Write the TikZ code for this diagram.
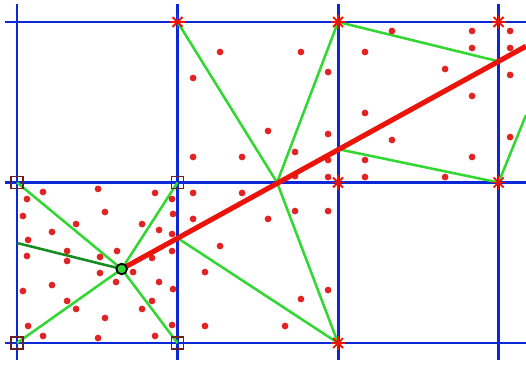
\documentclass[tikz,border=0pt]{standalone}
\definecolor{gblue}{RGB}{10,40,215}
\definecolor{lgreen}{RGB}{50,215,50}
\definecolor{dgreen}{RGB}{20,140,30}
\definecolor{rayred}{RGB}{235,20,10}
\definecolor{dotred}{RGB}{225,35,35}
\definecolor{sqred}{RGB}{110,30,30}
\begin{document}
\begin{tikzpicture}[
  x=4cm, y=4cm,
  gridline/.style={line width=2.1pt, draw=gblue},
  edge/.style={line width=1.8pt, draw=lgreen},
  dark_edge/.style={line width=1.8pt, draw=dgreen},
  ray/.style={line width=3.6pt, draw=rayred},
  dot/.style={circle, fill=dotred, inner sep=0pt, minimum size=4.8pt},
  qnode/.style={circle, draw=black, fill=lgreen, line width=1.3pt, inner sep=0pt, minimum size=7.5pt},
  sqmark/.style={rectangle, draw=sqred, line width=0.9pt, inner sep=0pt, minimum size=8.5pt},
  astmark/.style={circle, inner sep=0pt, minimum size=11pt,
    path picture={\foreach \a in {0,45,...,315}
      \draw[rayred, line width=1.3pt] (path picture bounding box.center) -- ++(\a:5pt);}}
]
  \useasboundingbox (-0.106,-0.131) rectangle (3.171,2.137);

  % --- Rejilla ---
  \draw[gridline] (-0.075,0) -- (3.171,0);
  \draw[gridline] (-0.075,1) -- (3.171,1);
  \draw[gridline] (-0.075,2) -- (3.171,2);
  \draw[gridline] (0,-0.106) -- (0,2.112);
  \draw[gridline] (1,-0.106) -- (1,2.112);
  \draw[gridline] (2,-0.106) -- (2,2.112);
  \draw[gridline] (3,-0.106) -- (3,2.112);

  % --- Vertices de la rejilla ---
  \coordinate (g00) at (0,0);
  \coordinate (g10) at (1,0);
  \coordinate (g20) at (2,0);
  \coordinate (g01) at (0,1);
  \coordinate (g11) at (1,1);
  \coordinate (g21) at (2,1);
  \coordinate (g31) at (3,1);
  \coordinate (g12) at (1,2);
  \coordinate (g22) at (2,2);
  \coordinate (g32) at (3,2);

  % --- Punto de consulta y cortes del rayo ---
  \coordinate (q)  at (0.652,0.461);
  \coordinate (c0) at (1,0.654);    % corte con x=1
  \coordinate (c1) at (1.620,1);    % corte con y=1
  \coordinate (c2) at (2,1.208);    % corte con x=2
  \coordinate (c3) at (3,1.755);    % corte con x=3
  \coordinate (rayend) at (3.171,1.849);
  \coordinate (lft) at (0,0.623);
  \coordinate (rgt) at (3.171,1.420);

  % --- Aristas verdes ---
  \draw[edge] (q) -- (g01);
  \draw[edge] (q) -- (g11);
  \draw[edge] (q) -- (g00);
  \draw[edge] (q) -- (g10);
  \draw[dark_edge] (q) -- (lft);
  \draw[edge] (c1) -- (g12);
  \draw[edge] (c1) -- (g22);
  \draw[edge] (c1) -- (g20);
  \draw[edge] (c0) -- (g20);
  \draw[edge] (c2) -- (g31);
  \draw[edge] (g22) -- (c3);
  \draw[edge] (g31) -- (rgt);

  % --- Muestras (celda inferior izquierda) ---
  \node[dot] (d1)  at (0.162,0.941) {};
  \node[dot] (d2)  at (0.505,0.960) {};
  \node[dot] (d3)  at (0.860,0.935) {};
  \node[dot] (d4)  at (0.062,0.897) {};
  \node[dot] (d5)  at (0.548,0.816) {};
  \node[dot] (d6)  at (0.037,0.791) {};
  \node[dot] (d7)  at (0.972,0.804) {};
  \node[dot] (d8)  at (0.368,0.741) {};
  \node[dot] (d9)  at (0.779,0.741) {};
  \node[dot] (d10) at (0.218,0.692) {};
  \node[dot] (d11) at (0.885,0.704) {};
  \node[dot] (d12) at (0.966,0.679) {};
  \node[dot] (d13) at (0.069,0.642) {};
  \node[dot] (d14) at (0.312,0.573) {};
  \node[dot] (d15) at (0.623,0.573) {};
  \node[dot] (d16) at (0.062,0.542) {};
  \node[dot] (d17) at (0.312,0.511) {};
  \node[dot] (d18) at (0.517,0.536) {};
  \node[dot] (d19) at (0.841,0.530) {};
  \node[dot] (d20) at (0.966,0.573) {};
  \node[dot] (d21) at (0.517,0.436) {};
  \node[dot] (d22) at (0.723,0.442) {};
  \node[dot] (d23) at (0.617,0.380) {};
  \node[dot] (d24) at (0.218,0.361) {};
  \node[dot] (d25) at (0.885,0.380) {};
  \node[dot] (d26) at (0.037,0.324) {};
  \node[dot] (d27) at (0.972,0.336) {};
  \node[dot] (d28) at (0.312,0.262) {};
  \node[dot] (d29) at (0.368,0.212) {};
  \node[dot] (d30) at (0.841,0.262) {};
  \node[dot] (d31) at (0.779,0.212) {};
  \node[dot] (d32) at (0.548,0.156) {};
  \node[dot] (d33) at (0.069,0.106) {};
  \node[dot] (d34) at (0.966,0.112) {};
  \node[dot] (d35) at (0.162,0.044) {};
  \node[dot] (d36) at (0.505,0.031) {};
  \node[dot] (d37) at (0.860,0.044) {};
  \node[dot] (d38) at (0.966,0.897) {};

  % --- Muestras (celda inferior central) ---
  \node[dot] (d39) at (1.097,0.935) {};
  \node[dot] (d40) at (1.402,0.935) {};
  \node[dot] (d41) at (1.732,0.822) {};
  \node[dot] (d42) at (1.938,0.822) {};
  \node[dot] (d43) at (1.097,0.773) {};
  \node[dot] (d44) at (1.564,0.773) {};
  \node[dot] (d45) at (1.265,0.604) {};
  \node[dot] (d46) at (1.171,0.442) {};
  \node[dot] (d47) at (1.938,0.330) {};
  \node[dot] (d48) at (1.769,0.274) {};
  \node[dot] (d49) at (1.171,0.106) {};
  \node[dot] (d50) at (1.670,0.106) {};

  % --- Muestras (celda superior central) ---
  \node[dot] (d51) at (1.938,1.034) {};
  \node[dot] (d52) at (1.265,1.813) {};
  \node[dot] (d53) at (1.769,1.813) {};
  \node[dot] (d54) at (1.097,1.651) {};
  \node[dot] (d55) at (1.938,1.688) {};
  \node[dot] (d56) at (1.564,1.321) {};
  \node[dot] (d57) at (1.938,1.302) {};
  \node[dot] (d58) at (1.732,1.190) {};
  \node[dot] (d59) at (1.097,1.159) {};
  \node[dot] (d60) at (1.402,1.159) {};
  \node[dot] (d61) at (1.938,1.140) {};
  \node[dot] (d62) at (1.732,1.040) {};

  % --- Muestras (celda superior derecha) ---
  \node[dot] (d63) at (2.336,1.944) {};
  \node[dot] (d64) at (2.835,1.944) {};
  \node[dot] (d65) at (3.072,1.944) {};
  \node[dot] (d66) at (2.168,1.813) {};
  \node[dot] (d67) at (2.835,1.838) {};
  \node[dot] (d68) at (3.072,1.838) {};
  \node[dot] (d69) at (2.667,1.707) {};
  \node[dot] (d70) at (3.072,1.670) {};
  \node[dot] (d71) at (2.835,1.539) {};
  \node[dot] (d72) at (2.168,1.433) {};
  \node[dot] (d73) at (2.336,1.265) {};
  \node[dot] (d74) at (3.072,1.283) {};
  \node[dot] (d75) at (2.168,1.140) {};
  \node[dot] (d76) at (2.835,1.159) {};
  \node[dot] (d77) at (2.168,1.034) {};
  \node[dot] (d78) at (2.667,1.034) {};

  % Rayo
  \draw[ray] (q) -- (rayend);

  % --- Marcas en los vertices ---
  \node[sqmark] (s00) at (g00) {};
  \node[sqmark] (s10) at (g10) {};
  \node[sqmark] (s01) at (g01) {};
  \node[sqmark] (s11) at (g11) {};
  \node[astmark] (a12) at (g12) {};
  \node[astmark] (a22) at (g22) {};
  \node[astmark] (a32) at (g32) {};
  \node[astmark] (a21) at (g21) {};
  \node[astmark] (a31) at (g31) {};
  \node[astmark] (a20) at (g20) {};

  % Punto de consulta
  \node[qnode] (qn) at (q) {};
\end{tikzpicture}
\end{document}
